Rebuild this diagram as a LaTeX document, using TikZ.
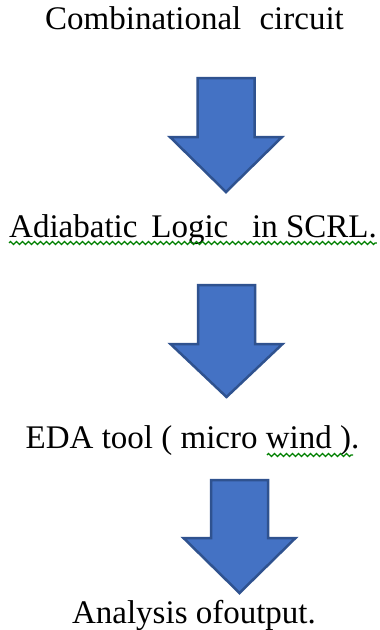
\documentclass[tikz,border=0pt]{standalone}
\usepackage{fontspec}
\setmainfont{Liberation Serif}
\usetikzlibrary{decorations.pathmorphing}

\definecolor{arrowfill}{HTML}{4472C4}
\definecolor{arrowline}{HTML}{2F528F}
\definecolor{squiggle}{HTML}{008000}

% block arrow pointing down: centre x, top, head start, tip
\newcommand{\blockdown}[4]{%
  \draw[blockarrow] (#1-28.5,#2) -- (#1+28.5,#2) -- (#1+28.5,#3) -- (#1+56,#3)
    -- (#1,#4) -- (#1-56,#3) -- (#1-28.5,#3) -- cycle;}

\tikzset{
  steptext/.style={inner sep=0pt, anchor=base, font=\fontsize{33}{40}\selectfont},
  blockarrow/.style={fill=arrowfill, draw=arrowline, line width=2.5pt, line join=miter},
  spellmark/.style={draw=squiggle, line width=1.3pt, decorate,
    decoration={zigzag, segment length=6pt, amplitude=1.5pt}}
}

\begin{document}
\begin{tikzpicture}[x=1pt,y=-1pt]
  \useasboundingbox (0,0) rectangle (380,630);

  \node[steptext] (comb) at (194.5,29) {Combinational\hspace{0.55em}circuit};
  \node[steptext] (adia) at (193,237) {Adiabatic\hspace{0.42em}Logic\hspace{0.72em}in SCRL.};
  \node[steptext] (eda)  at (192.5,448) {EDA tool ( micro wind ).};
  \node[steptext] (anal) at (194,623) {Analysis ofoutput.};

  \blockdown{226}{78}{137}{192}
  \blockdown{226.5}{285}{344}{397}
  \blockdown{239.5}{480}{538}{593}

  % spelling marks
  \draw[spellmark] ([yshift=-6pt]adia.base west) -- ([yshift=-6pt]adia.base east);
  \draw[spellmark] (267,455) -- (353,455);
\end{tikzpicture}
\end{document}
